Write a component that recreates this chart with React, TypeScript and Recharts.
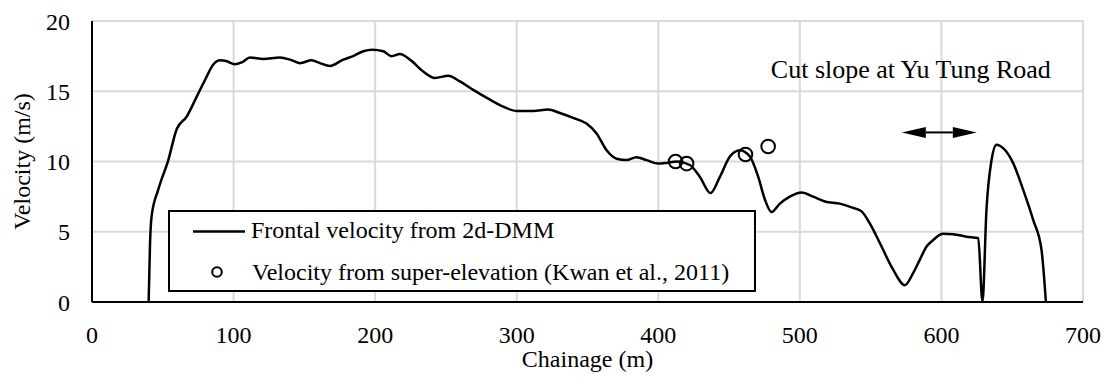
import React from 'react'
import {
  CartesianGrid,
  ComposedChart,
  Legend,
  Line,
  ReferenceDot,
  ReferenceLine,
  Scatter,
  XAxis,
  YAxis,
} from 'recharts'

const FONT = '"Liberation Serif", "Times New Roman", serif'

// chainage (m) and frontal velocity (m/s)
const chainage = [
  40, 41, 42.1, 46.8, 53.9, 59.8, 66.9, 73.9, 79.8, 85.7, 90.4, 94.7, 101, 105.7, 111.6, 121,
  132.8, 139.8, 146.9, 155.1, 161, 168, 177.5, 184.5, 191.6, 198, 205.7, 211.6, 217.5, 224.6,
  234, 242.2, 251.6, 259.9, 269.3, 281.1, 290.5, 299.9, 311.7, 322.2, 330.5, 339.9, 349.3,
  356.4, 363.5, 370.5, 377.6, 384.6, 391.7, 400, 405.9, 413, 422.3, 429.4, 436.9, 443.5,
  450.6, 457.6, 464.7, 470.6, 475.3, 480, 485.9, 492.9, 501.2, 509.4, 517.7, 528.2, 537.6,
  543.6, 549.4, 556.5, 565.9, 574.2, 580, 584.7, 589.5, 594, 601.2, 608.3, 617.7, 626, 629,
  631.8, 635.4, 638.9, 643.6, 650.6, 657.7, 664.8, 670.7, 673.8,
]
const velocity = [
  0, 4.2, 6.1, 8.0, 10.1, 12.3, 13.2, 14.6, 15.8, 16.9, 17.2, 17.15, 16.92, 17.05, 17.4, 17.3,
  17.4, 17.25, 17.0, 17.2, 17.0, 16.8, 17.25, 17.5, 17.85, 17.96, 17.85, 17.5, 17.65, 17.25,
  16.4, 15.95, 16.1, 15.7, 15.1, 14.4, 13.9, 13.6, 13.6, 13.7, 13.45, 13.1, 12.7,
  12.0, 10.8, 10.2, 10.1, 10.3, 10.1, 9.85, 9.9, 10.0, 9.75, 8.9, 7.75, 8.9,
  10.35, 10.8, 10.35, 8.9, 7.3, 6.4, 7.0, 7.5, 7.8, 7.5, 7.15, 7.0, 6.7,
  6.45, 5.6, 4.2, 2.3, 1.2, 2.05, 3.0, 3.95, 4.4, 4.85, 4.83, 4.65, 4.55, 0,
  6.55, 10.1, 11.2, 10.95, 9.9, 8.0, 5.85, 3.7, 0,
]

// super-elevation estimates (Kwan et al., 2011)
const obsChainage = [412.2, 420, 461.6, 477.6]
const obsVelocity = [10.0, 9.85, 10.5, 11.07]

const xTicks = [0, 100, 200, 300, 400, 500, 600, 700]
const yTicks = [0, 5, 10, 15, 20]

const lineData = chainage.map((x, i) => ({ x, v: velocity[i] }))
const obsData = obsChainage.map((x, i) => ({ x, v: obsVelocity[i] }))

const Arrow = (p: any) => {
  const { x1, y1, x2, y2 } = p
  const h = 24
  const w = 5.5
  return (
    <g>
      <line x1={x1 + h} y1={y1} x2={x2 - h} y2={y2} stroke="#000" strokeWidth={2} />
      <polygon points={`${x1},${y1} ${x1 + h},${y1 - w} ${x1 + h},${y1 + w}`} fill="#000" />
      <polygon points={`${x2},${y2} ${x2 - h},${y2 - w} ${x2 - h},${y2 + w}`} fill="#000" />
    </g>
  )
}

const YTitle = (p: any) => {
  const vb = p.viewBox
  const cx = vb.x + 22
  const cy = vb.y + vb.height / 2
  return (
    <text
      x={cx}
      y={cy}
      transform={`rotate(-90, ${cx}, ${cy})`}
      textAnchor="middle"
      dominantBaseline="central"
      fontFamily={FONT}
      fontSize={24}
      fill="#000"
    >
      Velocity (m/s)
    </text>
  )
}

const LegendBox = (props: any) => {
  const items = props.payload || []
  return (
    <div style={{ position: 'relative', width: '100%', height: '100%', fontFamily: FONT, fontSize: 24, color: '#000' }}>
      {items.map((it: any, i: number) => (
        <div key={i} style={{ position: 'absolute', left: 0, top: 4 + i * 42, height: 28, width: '100%' }}>
          <svg width={80} height={28} style={{ position: 'absolute', left: 0, top: 0 }}>
            {it.type === 'line' ? (
              <line x1={23} y1={15.5} x2={75} y2={15.5} stroke="#000" strokeWidth={2.5} />
            ) : (
              <circle cx={47} cy={14} r={4.8} fill="none" stroke="#000" strokeWidth={2} />
            )}
          </svg>
          <span style={{ position: 'absolute', left: 81 + i, top: 0, lineHeight: '28px', whiteSpace: 'nowrap' }}>
            {it.value}
          </span>
        </div>
      ))}
    </div>
  )
}

export default function App() {
  return (
    <div style={{ position: 'absolute', left: 0, top: 0, width: 1111, height: 378, background: '#fff' }}>
      <ComposedChart width={1111} height={378} margin={{ top: 21, right: 28, left: 0, bottom: 0 }}>
        <CartesianGrid stroke="#d9d9d9" strokeWidth={2} />
        <XAxis
          dataKey="x"
          type="number"
          domain={[0, 700]}
          ticks={xTicks}
          height={76}
          tickLine={false}
          tickSize={0}
          tickMargin={24}
          axisLine={{ stroke: '#000', strokeWidth: 2 }}
          tick={{ fill: '#000', fontSize: 24, fontFamily: FONT }}
          label={{ value: 'Chainage (m)', position: 'insideBottom', offset: 11, fill: '#000', fontSize: 24, fontFamily: FONT }}
        />
        <YAxis
          type="number"
          domain={[0, 20]}
          ticks={yTicks}
          width={92}
          tickLine={false}
          tickSize={0}
          tickMargin={22}
          axisLine={{ stroke: '#000', strokeWidth: 2 }}
          tick={{ fill: '#000', fontSize: 24, fontFamily: FONT }}
          label={<YTitle />}
        />
        <Line
          data={lineData}
          dataKey="v"
          name="Frontal velocity from 2d-DMM"
          type="monotone"
          stroke="#000"
          strokeWidth={2.5}
          dot={false}
          legendType="line"
          isAnimationActive={false}
        />
        <Scatter
          data={obsData}
          dataKey="v"
          name="Velocity from super-elevation (Kwan et al., 2011)"
          legendType="circle"
          isAnimationActive={false}
          shape={(p: any) => <circle cx={p.cx} cy={p.cy} r={6.8} fill="none" stroke="#000" strokeWidth={2} />}
        />
        <ReferenceLine
          segment={[{ x: 572, y: 12.07 }, { x: 625, y: 12.07 }]}
          shape={<Arrow />}
        />
        <ReferenceDot
          x={578.4}
          y={16.6}
          r={0}
          fill="none"
          stroke="none"
          label={{ value: 'Cut slope at Yu Tung Road', position: 'center', fill: '#000', fontSize: 26, fontFamily: FONT }}
        />
        <Legend
          layout="vertical"
          align="center"
          verticalAlign="middle"
          content={<LegendBox />}
          wrapperStyle={{
            left: 168,
            top: 210,
            width: 588,
            height: 82,
            border: '2px solid #000',
            background: '#fff',
            boxSizing: 'border-box',
          }}
        />
      </ComposedChart>
    </div>
  )
}
